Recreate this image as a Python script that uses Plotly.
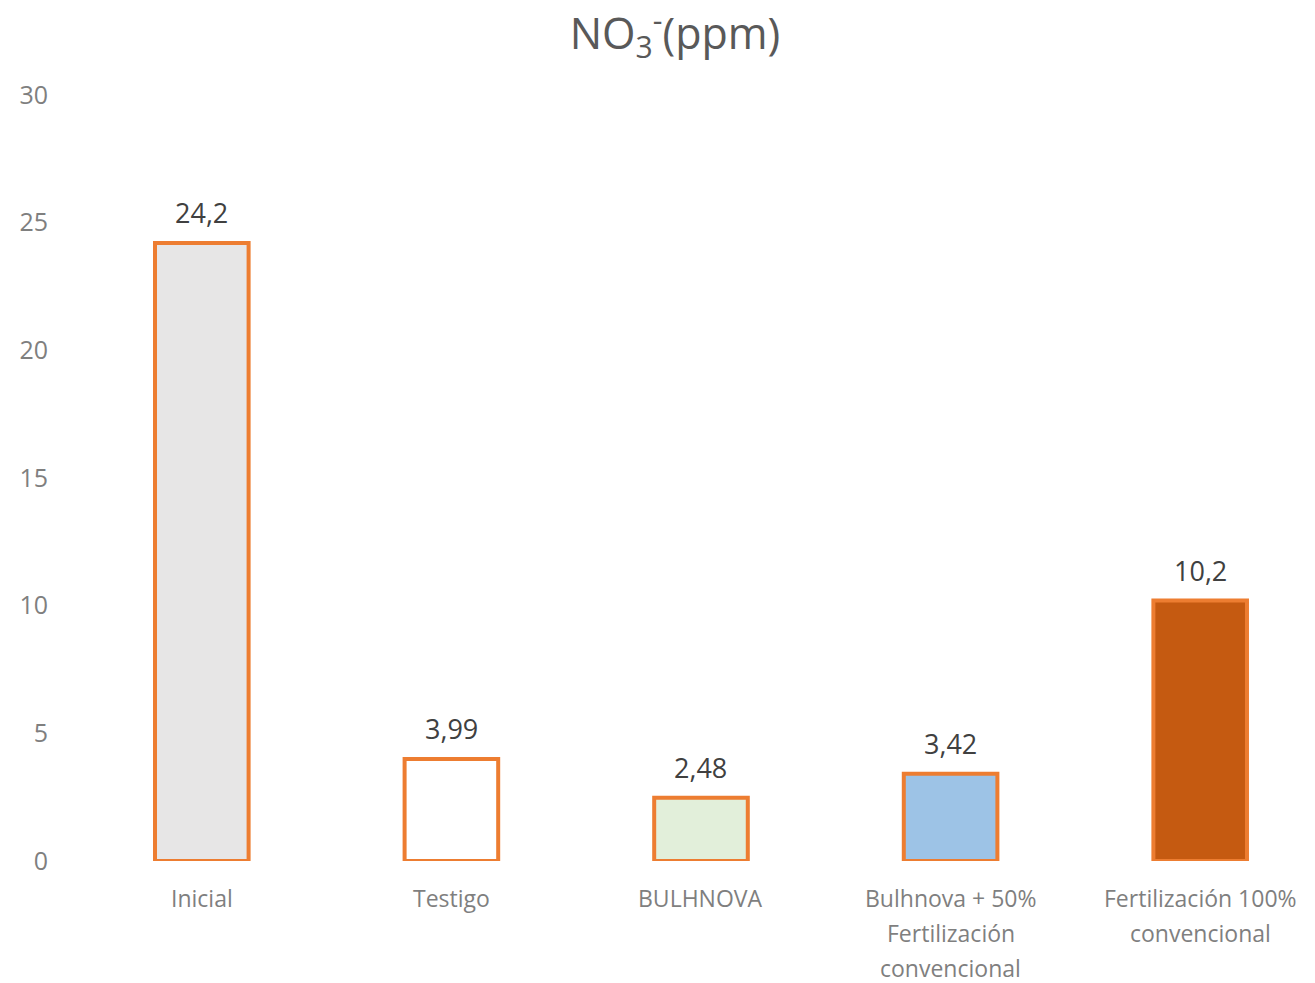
import plotly.graph_objects as go

categories = ["Inicial", "Testigo", "BULHNOVA", "Bulhnova + 50%<br>Fertilización<br>convencional", "Fertilización 100%<br>convencional"]
values = [24.2, 3.99, 2.48, 3.42, 10.2]
fills = ["#E7E6E6", "#FFFFFF", "#E2EFDA", "#9DC3E6", "#C55A11"]
outline = "#ED7D31"
yticks = [0, 5, 10, 15, 20, 25, 30]

fig = go.Figure()
fig.add_trace(go.Bar(
    x=list(range(len(categories))), y=values,
    marker=dict(color=fills, line=dict(color=outline, width=4)),
    width=0.375, hoverinfo="skip",
))
for i, v in enumerate(values):
    fig.add_annotation(x=i, y=v, text=str(v).replace(".", ","), showarrow=False,
                       yanchor="bottom", yshift=10,
                       font=dict(family="Open Sans", size=27, color="#404040"))

# category labels, one annotation per line for Excel-like line spacing
for i, lab in enumerate(categories):
    for j, line in enumerate(lab.split("<br>")):
        fig.add_annotation(x=i, y=0, xref="x", yref="y", text=line, showarrow=False,
                           yanchor="middle", yshift=-37 - 35 * j,
                           font=dict(family="Open Sans", size=23, color="#7F7F7F"))

fig.update_layout(
    width=1315, height=983,
    margin=dict(l=77, r=0, t=95, b=122),
    plot_bgcolor="white", paper_bgcolor="white",
    showlegend=False,
    title=dict(text="NO<sub>3</sub><sup>-</sup>(ppm)", x=675/1315, xanchor="center", xref="container",
               y=1-34/983, yanchor="middle", yref="container",
               font=dict(family="Open Sans", size=43, color="#595959")),
    xaxis=dict(range=[-0.5, 4.46], showgrid=False, zeroline=False, showline=False,
               ticks="", showticklabels=False),
    yaxis=dict(range=[0, 30], tickvals=yticks, showgrid=False, zeroline=False, showline=False,
               ticks="", ticklabelstandoff=28,
               tickfont=dict(family="Open Sans", size=25, color="#7F7F7F")),
)
fig.write_html("out.html")
